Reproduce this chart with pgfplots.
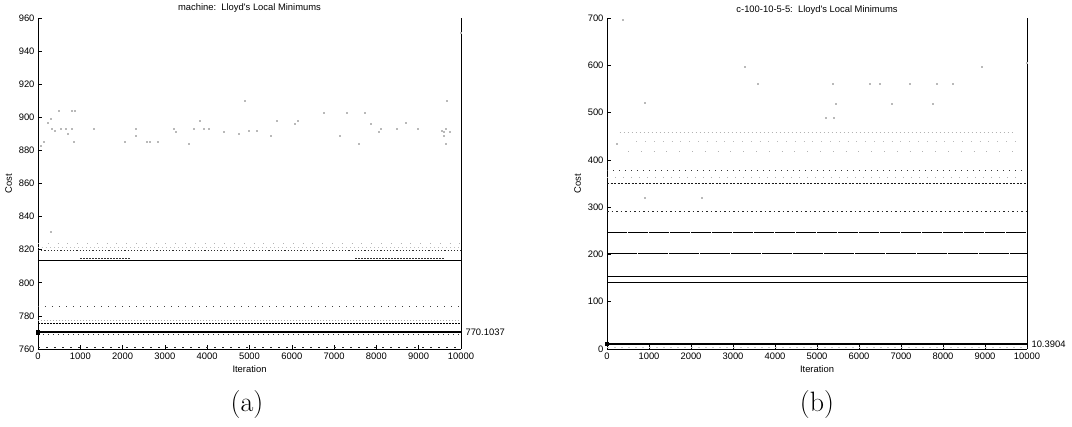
\documentclass[border=0pt]{standalone}
\usepackage{pgfplots}
\pgfplotsset{compat=1.18}
\usepackage{fontspec}
\newfontfamily\hel{Liberation Sans}
\newcommand{\hf}{\hel\fontsize{9.4}{10}\selectfont}

\pgfplotsset{
  mstyle/.style={
    scale only axis,
    axis x line*=bottom, axis y line*=box,
    xtick pos=left, ytick pos=left,
    tick align=inside,
    major tick length=4pt,
    axis line style={line width=0.8pt, black},
    tick style={line width=0.6pt, black},
    xmin=0, xmax=10000,
    xtick={0,1000,...,10000},
    scaled x ticks=false, scaled y ticks=false,
    /pgf/number format/set thousands separator={},
    /pgf/number format/assume math mode=true,
    ticklabel style={font=\hf},
    label style={font=\hf},
    every axis title/.style={font=\hf, at={(0.5,1)}, anchor=base, inner sep=0pt, yshift=7.5pt},
    xlabel={Iteration}, ylabel={Cost},
    clip=false,
  },
  band/.style={line width=0.8pt},
  pts/.style={only marks, mark=square*, mark size=0.5pt, gray!55},
}

\begin{document}
\begin{tikzpicture}
\path (0pt,0pt) rectangle (1072pt,427pt);

% ---------------- panel (a)
\begin{axis}[mstyle, at={(38pt,78pt)}, anchor=south west,
  width=423pt, height=331pt,
  ymin=760, ymax=960, ytick={760,780,...,960},
  title={machine:\ \ Lloyd's Local Minimums}]
\addplot[pts] coordinates {
(480,904) (797,904) (858,904) (300,899) (220,897) (324,893) (402,892)
(537,893) (655,893) (693,890) (797,893) (1324,893) (125,885) (835,885)
(2057,885) (2570,885) (2648,885) (2830,885) (3553,884) (2317,893)
(2317,889) (3199,893) (3262,891) (3813,898) (3671,893) (3908,893)
(4043,893) (4381,891) (4735,890) (4877,910) (6745,903) (7298,903)
(7730,903) (5643,898) (6139,898) (6076,896) (4988,892) (5170,892)
(5508,889) (7139,889) (7572,884) (7872,896) (8109,893) (8045,891)
(8480,893) (8693,897) (8976,893) (9544,892) (9638,893) (9598,891)
(9724,891) (9598,889) (9638,884) (9662,910) (307,831) (9990,951) (60,883)};
\addplot[band, gray!60, dash pattern=on 0.8pt off 9pt] coordinates {(0,824) (10000,824)};
\addplot[band, gray!50, dash pattern=on 1pt off 3pt] coordinates {(0,821.5) (10000,821.5)};
\addplot[band, gray!35!black, dash pattern=on 1.2pt off 2pt] coordinates {(0,819.5) (10000,819.5)};
\addplot[black, line width=0.6pt] coordinates {(0,813.5) (10000,813.5)};
\addplot[black, line width=1.4pt] coordinates {(0,813.5) (1700,813.5)};
\addplot[band, gray!40!black, dash pattern=on 1.5pt off 1.5pt] coordinates {(1000,814.8) (2200,814.8)};
\addplot[band, gray!40!black, dash pattern=on 1.5pt off 1.5pt] coordinates {(7500,814.8) (9600,814.8)};
\addplot[band, gray!50!black, dash pattern=on 1pt off 6pt] coordinates {(0,785.5) (10000,785.5)};
\addplot[band, gray!65, dash pattern=on 1pt off 2pt] coordinates {(0,777.5) (10000,777.5)};
\addplot[black, line width=1pt, dash pattern=on 2pt off 1pt] coordinates {(0,775.2) (10000,775.2)};
\addplot[black, line width=1.6pt] coordinates {(0,770.1037) (10000,770.1037)};
\addplot[band, gray!40!black, dash pattern=on 1pt off 4pt] coordinates {(0,768.6) (10000,768.6)};
\addplot[band, gray!30!black, dash pattern=on 2pt off 6pt] coordinates {(0,761) (10000,761)};
\addplot[only marks, mark=square*, mark size=1.6pt, black] coordinates {(0,770.1037)};
\node[anchor=west, font=\hf, xshift=1pt] at (axis cs:10000,770.1037) {770.1037};
\end{axis}

% ---------------- panel (b)
\begin{axis}[mstyle, at={(607pt,78pt)}, anchor=south west,
  width=420pt, height=331pt,
  ymin=0, ymax=700, ytick={0,100,...,700},
  title style={yshift=-2pt},
  title={c-100-10-5-5:\ \ Lloyd's Local Minimums}]
\addplot[pts] coordinates {
(367,696) (3270,597) (8930,597) (10000,605) (3590,560) (5370,560)
(6250,560) (6500,560) (7210,560) (7850,560) (8220,560) (905,521)
(5452,519) (6776,519) (7760,519) (5207,490) (5388,490) (230,435)
(905,320) (2260,320)};
\addplot[band, gray!60, dash pattern=on 1pt off 3pt] coordinates {(300,459) (9700,459)};
\addplot[band, gray!55, dash pattern=on 0.8pt off 8pt] coordinates {(700,438) (9800,438)};
\addplot[band, gray!60, dash pattern=on 0.8pt off 12pt] coordinates {(500,417) (9800,417)};
\addplot[band, gray!40!black, dash pattern=on 1pt off 5pt] coordinates {(0,378) (9900,378)};
\addplot[band, gray!60, dash pattern=on 1pt off 7pt] coordinates {(0,363) (9900,363)};
\addplot[band, gray!20!black, dash pattern=on 2pt off 1.5pt] coordinates {(0,351) (10000,351)};
\addplot[band, gray!30!black, dash pattern=on 1.5pt off 3pt] coordinates {(0,290) (10000,290)};
\addplot[black, line width=0.9pt, dash pattern=on 20pt off 1pt] coordinates {(0,246) (10000,246)};
\addplot[black, line width=0.7pt, dash pattern=on 30pt off 1pt] coordinates {(0,203) (10000,203)};
\addplot[black, line width=0.8pt] coordinates {(0,153) (10000,153)};
\addplot[black, line width=0.9pt] coordinates {(0,141) (10000,141)};
\addplot[black, line width=1.2pt] coordinates {(0,10.3904) (10000,10.3904)};
\addplot[band, gray!40, dash pattern=on 2pt off 5pt] coordinates {(0,3) (10000,3)};
\addplot[only marks, mark=square*, mark size=1.4pt, black] coordinates {(0,10.3904)};
\node[anchor=west, font=\hf, xshift=1pt] at (axis cs:10000,10.3904) {10.3904};
\end{axis}

\node[font=\fontsize{28}{32}\selectfont] at (247pt,22pt) {(a)};
\node[font=\fontsize{28}{32}\selectfont] at (817pt,22pt) {(b)};
\end{tikzpicture}
\end{document}
